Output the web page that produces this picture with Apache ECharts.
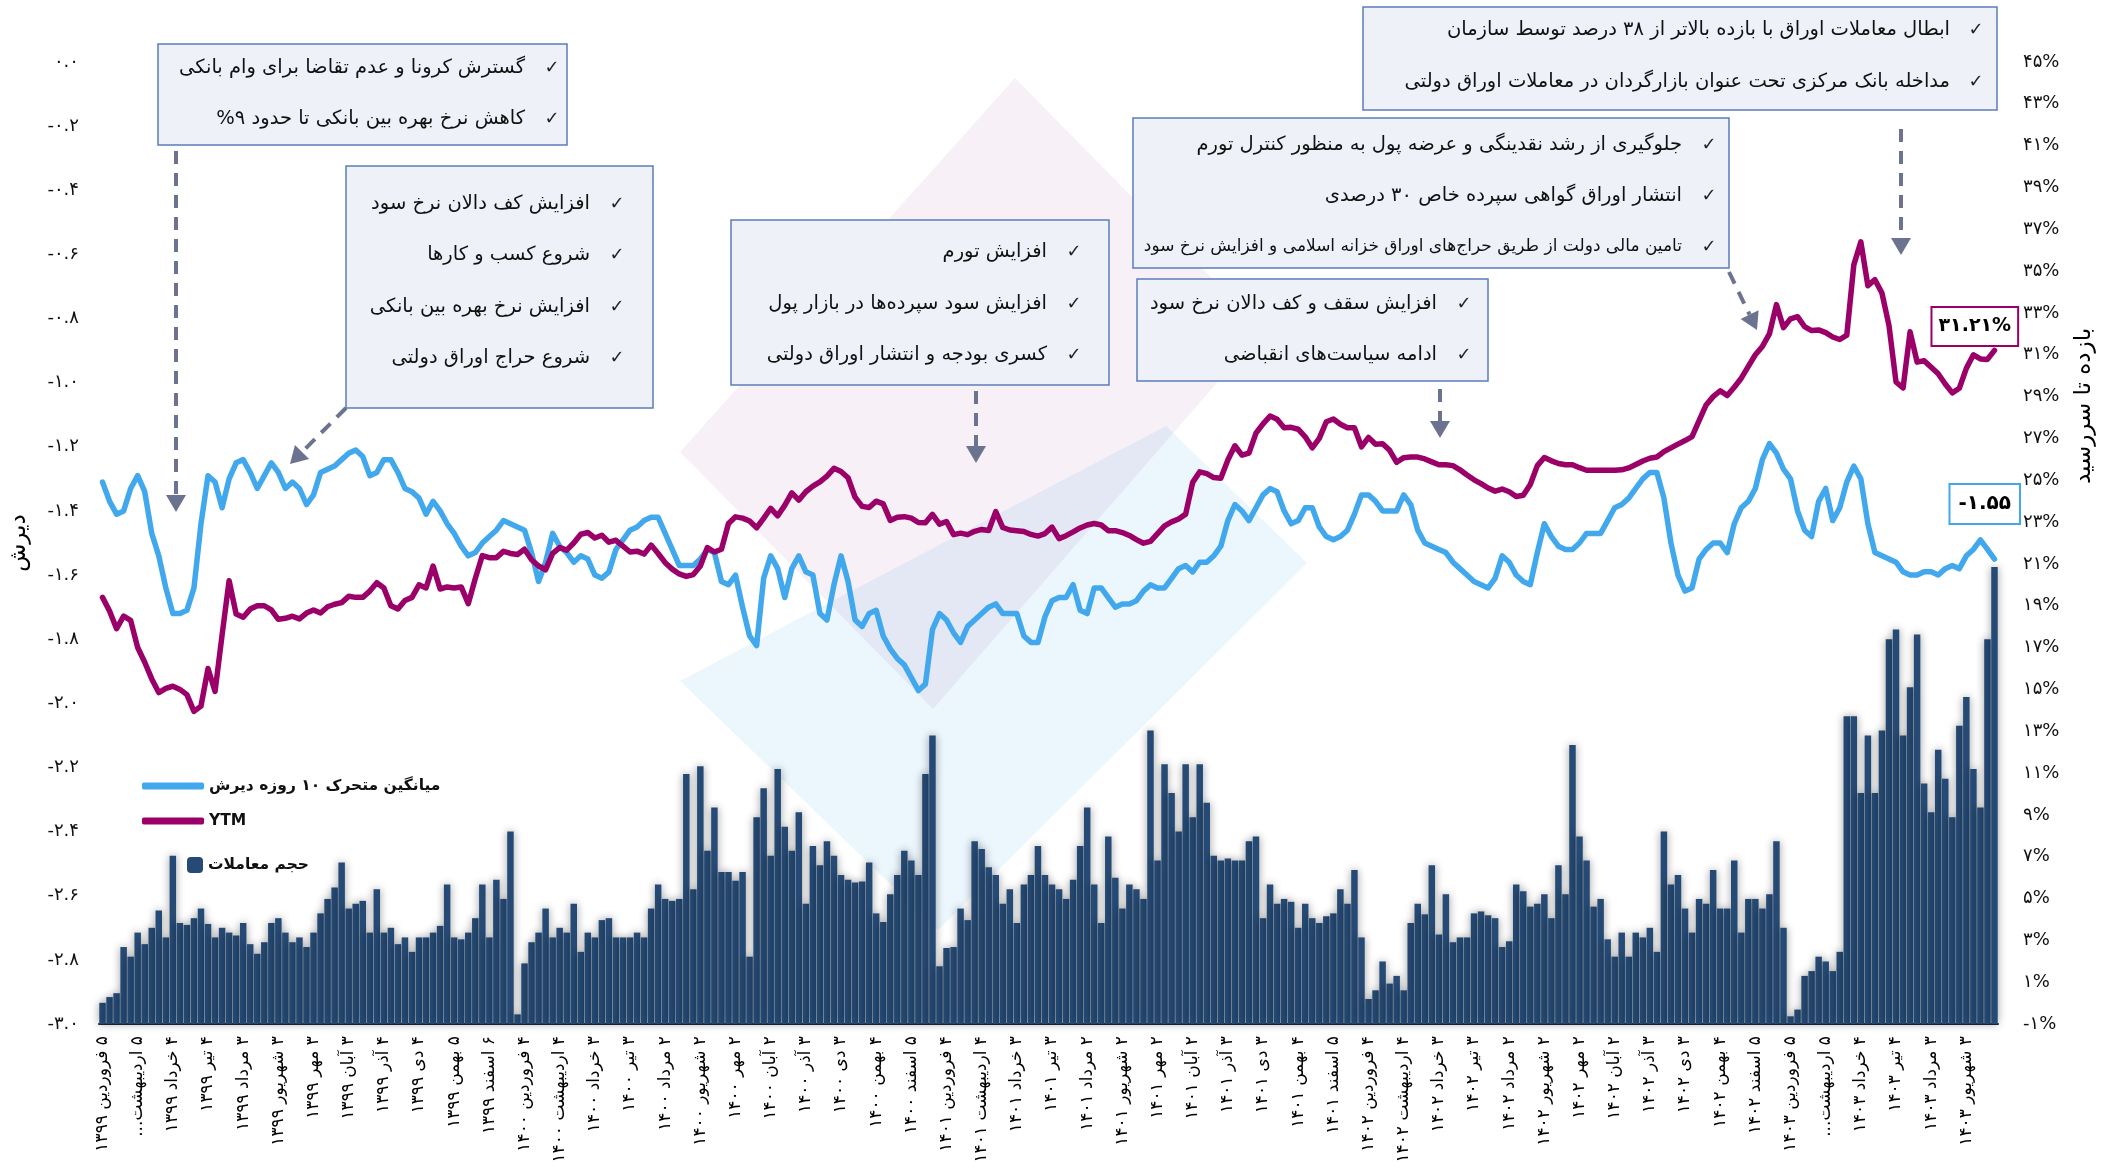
<!DOCTYPE html>
<html>
<head>
<meta charset="utf-8">
<script src="https://cdn.jsdelivr.net/npm/echarts/dist/echarts.min.js"></script>
<style>
html, body { margin: 0; padding: 0; background: #fff; }
#main { width: 2102px; height: 1171px; }
</style>
</head>
<body>
<div id="main"></div>
<script>
// month tick labels (one every 5 samples)
var monthLabels = [
    '۵ فروردین ۱۳۹۹', '۵ اردیبهشت...', '۴ خرداد ۱۳۹۹', '۴ تیر ۱۳۹۹', '۳ مرداد ۱۳۹۹', '۳ شهریور ۱۳۹۹',
    '۳ مهر ۱۳۹۹', '۳ آبان ۱۳۹۹', '۴ آذر ۱۳۹۹', '۴ دی ۱۳۹۹', '۵ بهمن ۱۳۹۹', '۶ اسفند ۱۳۹۹',
    '۴ فروردین ۱۴۰۰', '۴ اردیبهشت ۱۴۰۰', '۳ خرداد ۱۴۰۰', '۳ تیر ۱۴۰۰', '۲ مرداد ۱۴۰۰', '۲ شهریور ۱۴۰۰',
    '۲ مهر ۱۴۰۰', '۲ آبان ۱۴۰۰', '۳ آذر ۱۴۰۰', '۳ دی ۱۴۰۰', '۴ بهمن ۱۴۰۰', '۵ اسفند ۱۴۰۰',
    '۴ فروردین ۱۴۰۱', '۴ اردیبهشت ۱۴۰۱', '۳ خرداد ۱۴۰۱', '۳ تیر ۱۴۰۱', '۲ مرداد ۱۴۰۱', '۲ شهریور ۱۴۰۱',
    '۲ مهر ۱۴۰۱', '۲ آبان ۱۴۰۱', '۳ آذر ۱۴۰۱', '۳ دی ۱۴۰۱', '۴ بهمن ۱۴۰۱', '۵ اسفند ۱۴۰۱',
    '۴ فروردین ۱۴۰۲', '۴ اردیبهشت ۱۴۰۲', '۳ خرداد ۱۴۰۲', '۳ تیر ۱۴۰۲', '۲ مرداد ۱۴۰۲', '۲ شهریور ۱۴۰۲',
    '۲ مهر ۱۴۰۲', '۲ آبان ۱۴۰۲', '۳ آذر ۱۴۰۲', '۳ دی ۱۴۰۲', '۴ بهمن ۱۴۰۲', '۵ اسفند ۱۴۰۲',
    '۵ فروردین ۱۴۰۳', '۵ اردیبهشت...', '۴ خرداد ۱۴۰۳', '۴ تیر ۱۴۰۳', '۳ مرداد ۱۴۰۳', '۳ شهریور ۱۴۰۳'
];
var perMonth = 5;

// 10 day moving average of discount (left axis)
var discount = [
    -1.31, -1.37, -1.41, -1.40, -1.33, -1.29, -1.34, -1.47, -1.54, -1.64,
    -1.72, -1.72, -1.71, -1.64, -1.44, -1.29, -1.31, -1.39, -1.30, -1.25,
    -1.24, -1.28, -1.33, -1.29, -1.25, -1.28, -1.33, -1.31, -1.33, -1.38,
    -1.35, -1.28, -1.27, -1.26, -1.24, -1.22, -1.21, -1.23, -1.29, -1.28,
    -1.24, -1.24, -1.28, -1.33, -1.34, -1.36, -1.41, -1.37, -1.40, -1.44,
    -1.47, -1.51, -1.54, -1.53, -1.50, -1.48, -1.46, -1.43, -1.44, -1.45,
    -1.46, -1.53, -1.62, -1.56, -1.47, -1.51, -1.53, -1.56, -1.54, -1.55,
    -1.60, -1.61, -1.59, -1.52, -1.49, -1.46, -1.45, -1.43, -1.42, -1.42,
    -1.47, -1.52, -1.57, -1.57, -1.57, -1.55, -1.52, -1.53, -1.62, -1.63,
    -1.60, -1.70, -1.79, -1.82, -1.61, -1.54, -1.58, -1.67, -1.58, -1.54,
    -1.59, -1.60, -1.72, -1.74, -1.63, -1.54, -1.62, -1.74, -1.76, -1.72,
    -1.71, -1.79, -1.83, -1.86, -1.88, -1.92, -1.96, -1.94, -1.77, -1.72,
    -1.74, -1.78, -1.81, -1.76, -1.74, -1.72, -1.70, -1.69, -1.72, -1.72,
    -1.72, -1.79, -1.81, -1.81, -1.73, -1.68, -1.67, -1.67, -1.63, -1.71,
    -1.72, -1.64, -1.64, -1.67, -1.70, -1.69, -1.69, -1.68, -1.65, -1.63,
    -1.64, -1.64, -1.61, -1.58, -1.57, -1.59, -1.56, -1.56, -1.54, -1.51,
    -1.43, -1.38, -1.40, -1.43, -1.39, -1.35, -1.33, -1.34, -1.40, -1.44,
    -1.43, -1.39, -1.39, -1.45, -1.48, -1.49, -1.48, -1.46, -1.41, -1.35,
    -1.35, -1.37, -1.40, -1.40, -1.40, -1.35, -1.38, -1.46, -1.50, -1.51,
    -1.52, -1.53, -1.56, -1.58, -1.60, -1.62, -1.63, -1.64, -1.61, -1.54,
    -1.56, -1.60, -1.62, -1.63, -1.53, -1.44, -1.48, -1.51, -1.52, -1.52,
    -1.50, -1.47, -1.47, -1.47, -1.43, -1.39, -1.38, -1.36, -1.33, -1.30,
    -1.28, -1.28, -1.36, -1.50, -1.60, -1.65, -1.64, -1.55, -1.52, -1.50,
    -1.50, -1.53, -1.44, -1.39, -1.37, -1.33, -1.24, -1.19, -1.22, -1.27,
    -1.30, -1.40, -1.46, -1.48, -1.37, -1.33, -1.43, -1.39, -1.31, -1.26,
    -1.30, -1.44, -1.53, -1.54, -1.55, -1.56, -1.59, -1.60, -1.60, -1.59,
    -1.59, -1.60, -1.58, -1.57, -1.58, -1.54, -1.52, -1.49, -1.52, -1.55
];

// YTM in percent (right axis)
var ytm = [
    19.4, 18.75, 17.9, 18.5, 18.3, 17.0, 16.3, 15.5, 14.85, 15.05,
    15.15, 15.0, 14.75, 13.95, 14.2, 16.0, 14.9, 17.6, 20.2, 18.6,
    18.45, 18.84, 19.0, 19.0, 18.8, 18.35, 18.4, 18.5, 18.37, 18.65,
    18.8, 18.65, 18.95, 19.07, 19.15, 19.45, 19.4, 19.4, 19.7, 20.1,
    19.85, 19.0, 18.85, 19.25, 19.4, 20.0, 19.85, 20.9, 19.8, 19.9,
    19.85, 19.9, 19.1, 20.3, 21.4, 21.3, 21.3, 21.6, 21.5, 21.45,
    21.7, 21.2, 20.9, 20.72, 21.5, 21.78, 21.66, 22.0, 22.42, 22.5,
    22.24, 22.37, 22.04, 22.13, 21.85, 21.57, 21.61, 21.47, 21.9, 21.5,
    21.06, 20.75, 20.52, 20.4, 20.49, 20.9, 21.78, 21.57, 21.7, 22.93,
    23.25, 23.19, 23.05, 22.73, 23.18, 23.66, 23.3, 23.8, 24.4, 24.05,
    24.45, 24.72, 24.92, 25.2, 25.57, 25.42, 25.12, 24.19, 23.75, 23.7,
    24.0, 23.87, 23.08, 23.23, 23.26, 23.19, 22.98, 22.97, 23.37, 22.9,
    23.03, 22.4, 22.47, 22.4, 22.56, 22.65, 22.6, 23.5, 22.74, 22.62,
    22.59, 22.55, 22.41, 22.33, 22.45, 22.76, 22.21, 22.35, 22.53, 22.72,
    22.86, 22.93, 22.86, 22.59, 22.59, 22.5, 22.36, 22.16, 21.99, 22.08,
    22.45, 22.82, 23.01, 23.15, 23.38, 24.9, 25.4, 25.32, 25.13, 25.1,
    25.97, 26.65, 26.2, 26.3, 27.25, 27.7, 28.07, 27.92, 27.51, 27.53,
    27.44, 27.08, 26.55, 27.0, 27.8, 27.93, 27.68, 27.51, 27.51, 26.6,
    27.05, 26.72, 26.75, 26.43, 25.86, 26.08, 26.11, 26.11, 26.02, 25.88,
    25.74, 25.74, 25.7, 25.5, 25.25, 25.02, 24.84, 24.63, 24.48, 24.58,
    24.45, 24.22, 24.28, 24.8, 25.7, 26.09, 25.93, 25.8, 25.74, 25.74,
    25.6, 25.48, 25.48, 25.48, 25.48, 25.48, 25.5, 25.59, 25.75, 25.92,
    26.05, 26.11, 26.37, 26.55, 26.73, 26.9, 27.09, 27.85, 28.6, 29.0,
    29.28, 29.05, 29.45, 29.88, 30.45, 31.0, 31.4, 32.0, 33.4, 32.3,
    32.72, 32.82, 32.35, 32.16, 32.19, 32.06, 31.85, 31.73, 31.94, 35.3,
    36.4, 34.3, 34.59, 33.95, 32.4, 29.7, 29.41, 32.1, 30.65, 30.72,
    30.4, 30.09, 29.6, 29.18, 29.4, 30.35, 31.0, 30.8, 30.78, 31.21
];

// trading volume (hidden axis, relative units)
var volume = [
    2.2, 2.8, 3.2, 8.0, 7.0, 9.5, 8.3, 10.0, 11.8, 9.0,
    17.5, 10.5, 10.3, 11.0, 12.0, 10.4, 9.0, 10.0, 9.5, 9.2,
    10.5, 8.3, 7.3, 8.5, 10.5, 11.0, 9.5, 8.5, 9.0, 8.0,
    9.5, 11.5, 13.0, 14.2, 16.8, 12.0, 12.5, 12.8, 9.5, 14.0,
    9.5, 10.0, 8.3, 9.0, 7.5, 9.0, 9.0, 9.5, 10.2, 14.5,
    9.0, 8.8, 9.5, 11.0, 14.5, 9.0, 15.0, 13.0, 20.0, 1.0,
    6.3, 8.5, 9.5, 12.0, 9.0, 10.0, 9.5, 12.5, 7.5, 9.5,
    9.0, 10.8, 11.0, 9.0, 9.0, 9.0, 9.5, 9.0, 12.0, 14.5,
    13.0, 12.8, 13.0, 26.0, 14.0, 26.8, 18.0, 22.5, 15.8, 15.8,
    14.9, 15.8, 7.0, 21.5, 24.5, 17.5, 26.5, 20.5, 18.0, 22.0,
    12.5, 18.5, 16.5, 19.0, 17.5, 15.5, 15.0, 14.7, 14.8, 16.8,
    11.5, 10.6, 13.5, 15.5, 18.0, 17.0, 15.5, 26.0, 30.0, 6.0,
    7.9, 8.0, 12.0, 10.8, 19.0, 18.2, 16.3, 15.5, 12.5, 14.0,
    10.5, 14.5, 15.5, 18.5, 15.5, 14.5, 14.0, 13.0, 15.0, 18.5,
    22.5, 14.5, 10.5, 19.5, 15.2, 12.0, 14.5, 14.0, 13.0, 30.5,
    17.0, 27.0, 24.0, 20.0, 27.0, 21.5, 27.0, 23.0, 17.5, 17.0,
    17.2, 17.0, 17.0, 19.0, 19.5, 11.0, 14.5, 12.5, 13.0, 12.7,
    10.0, 12.5, 11.0, 10.5, 11.2, 11.5, 14.0, 12.5, 16.0, 9.0,
    2.6, 3.5, 6.5, 4.2, 5.0, 3.5, 10.5, 12.5, 11.4, 16.5,
    9.3, 13.5, 8.5, 9.0, 9.0, 11.5, 11.7, 11.3, 11.0, 8.0,
    8.6, 14.5, 13.8, 12.2, 12.5, 13.5, 11.0, 16.5, 13.5, 29.0,
    19.5, 17.0, 12.2, 13.0, 8.8, 7.0, 9.5, 7.0, 9.5, 9.0,
    10.0, 7.5, 20.0, 14.5, 15.5, 12.0, 9.5, 13.0, 12.5, 16.0,
    12.0, 12.0, 17.0, 9.5, 13.0, 13.0, 12.0, 13.5, 19.0, 10.0,
    0.8, 1.5, 5.0, 5.5, 7.0, 6.5, 5.5, 7.5, 32.0, 32.0,
    24.0, 30.0, 24.0, 30.5, 40.0, 41.0, 30.0, 35.0, 40.5, 25.0,
    22.0, 28.5, 25.5, 21.5, 31.0, 34.0, 26.5, 22.5, 40.0, 47.5
];

var FA = 'DejaVu Sans';
var BLUE = '#42a8ee', PURPLE = '#9b0068', NAVY = '#254a75', ARROW = '#6b7391';

function fa(s) {
    return String(s).replace(/[0-9]/g, function (d) { return '۰۱۲۳۴۵۶۷۸۹'[d]; });
}
function rtl(s) { return '\u200F' + s + '\u200F'; }

var days = volume.map(function (v, i) { return String(i); });

// annotation boxes
var notes = [
    {x: 158, y: 44, w: 409, h: 101, check: 552, tx: 525, rows: [68, 119], size: [19.5, 19.5],
        lines: ['گسترش کرونا و عدم تقاضا برای وام بانکی', 'کاهش نرخ بهره بین بانکی تا حدود ۹%']},
    {x: 346, y: 166, w: 307, h: 242, check: 617, tx: 590, rows: [204, 255, 307, 358], size: [19.5, 19.5, 19.5, 19.5],
        lines: ['افزایش کف دالان نرخ سود', 'شروع کسب و کارها', 'افزایش نرخ بهره بین بانکی', 'شروع حراج اوراق دولتی']},
    {x: 731, y: 220, w: 378, h: 165, check: 1074, tx: 1047, rows: [252, 304, 355], size: [19.5, 19.5, 19.5],
        lines: ['افزایش تورم', 'افزایش سود سپرده‌ها در بازار پول', 'کسری بودجه و انتشار اوراق دولتی']},
    {x: 1363, y: 7, w: 634, h: 103, check: 1976, tx: 1950, rows: [30, 82], size: [19.5, 19.5],
        lines: ['ابطال معاملات اوراق با بازده بالاتر از ۳۸ درصد توسط سازمان', 'مداخله بانک مرکزی تحت عنوان بازارگردان در معاملات اوراق دولتی']},
    {x: 1133, y: 118, w: 596, h: 150, check: 1709, tx: 1682, rows: [145, 196, 247], size: [19.5, 19.5, 17],
        lines: ['جلوگیری از رشد نقدینگی و عرضه پول به منظور کنترل تورم', 'انتشار اوراق گواهی سپرده خاص ۳۰ درصدی', 'تامین مالی دولت از طریق حراج‌های اوراق خزانه اسلامی و افزایش نرخ سود']},
    {x: 1137, y: 279, w: 351, h: 102, check: 1464, tx: 1437, rows: [304, 355], size: [19.5, 19.5],
        lines: ['افزایش سقف و کف دالان نرخ سود', 'ادامه سیاست‌های انقباضی']}
];

var arrows = [
    [176, 151, 176, 512], [346, 408, 290, 464], [976, 391, 976, 463],
    [1901, 129, 1901, 255], [1729, 272, 1757, 330], [1440, 389, 1440, 438]
];

var graphics = [];
// faint logo in the background
graphics.push({type: 'polygon', z: 0, silent: true,
    shape: {points: [[1015, 78], [1263, 330], [933, 709], [680, 452]]},
    style: {fill: 'rgba(140,40,130,0.07)'}});
graphics.push({type: 'polygon', z: 0, silent: true,
    shape: {points: [[680, 681], [1166, 426], [1307, 563], [938, 930]]},
    style: {fill: 'rgba(66,168,238,0.1)'}});

notes.forEach(function (n) {
    graphics.push({type: 'rect', z: 100, shape: {x: n.x, y: n.y, width: n.w, height: n.h},
        style: {fill: '#eef2f8', stroke: '#5b7db8', lineWidth: 1.5}});
    n.lines.forEach(function (t, k) {
        graphics.push({type: 'text', z: 101, x: n.check, y: n.rows[k],
            style: {text: '✓', fontSize: 18, fontFamily: FA, fill: '#222', align: 'center', verticalAlign: 'middle'}});
        graphics.push({type: 'text', z: 101, x: n.tx, y: n.rows[k],
            style: {text: rtl(t), fontSize: n.size[k], fontFamily: FA, fill: '#111', align: 'right', verticalAlign: 'middle'}});
    });
});

arrows.forEach(function (a) {
    var dx = a[2] - a[0], dy = a[3] - a[1];
    var len = Math.sqrt(dx * dx + dy * dy), ux = dx / len, uy = dy / len;
    var hl = 17, hw = 10;
    var bx = a[2] - ux * hl, by = a[3] - uy * hl;
    graphics.push({type: 'line', z: 100, shape: {x1: a[0], y1: a[1], x2: bx, y2: by},
        style: {stroke: ARROW, lineWidth: 4, lineDash: [13, 9]}});
    graphics.push({type: 'polygon', z: 100,
        shape: {points: [[a[2], a[3]], [bx - uy * hw, by + ux * hw], [bx + uy * hw, by - ux * hw]]},
        style: {fill: ARROW}});
});

graphics.push({type: 'text', z: 100, x: 2084, y: 406, rotation: Math.PI / 2,
    style: {text: 'بازده تا سررسید', fontSize: 23, fontFamily: FA, fill: '#000', align: 'center', verticalAlign: 'middle'}});

var myChart = echarts.init(document.getElementById('main'));
var option = {
    animation: false,
    backgroundColor: '#fff',
    grid: {left: 95, right: 104, top: 62, bottom: 147},
    legend: [
        {
            data: ['میانگین متحرک ۱۰ روزه دیرش', 'YTM'],
            orient: 'vertical', left: 137, top: 773,
            itemWidth: 62, itemHeight: 7, itemGap: 19, icon: 'roundRect',
            textStyle: {fontSize: 15.5, fontWeight: 'bold', color: '#111', fontFamily: FA}
        },
        {
            data: ['حجم معاملات'],
            left: 182, top: 852, itemWidth: 16, itemHeight: 16, icon: 'roundRect',
            textStyle: {fontSize: 15.5, fontWeight: 'bold', color: '#111', fontFamily: FA}
        }
    ],
    xAxis: {
        type: 'category',
        data: days,
        axisLine: {onZero: false, lineStyle: {color: '#1d2b3a', width: 2}},
        axisTick: {show: false},
        axisLabel: {
            interval: perMonth - 1, rotate: 90, margin: 12,
            fontSize: 17, color: '#000', fontFamily: FA,
            formatter: function (v, i) {
                return i % perMonth === 0 ? rtl(monthLabels[i / perMonth] || '') : '';
            }
        }
    },
    yAxis: [
        {
            type: 'value', min: -3, max: 0, interval: 0.2, position: 'left',
            axisLine: {show: false}, axisTick: {show: false}, splitLine: {show: false},
            axisLabel: {
                margin: 20, fontSize: 18, color: '#111', fontFamily: FA,
                formatter: function (v) { return fa((Math.abs(v) < 1e-9 ? 0 : v).toFixed(1)); }
            },
            name: 'دیرش', nameLocation: 'middle', nameGap: 68,
            nameTextStyle: {fontSize: 23, color: '#000', fontFamily: FA}
        },
        {
            type: 'value', min: -1, max: 45, interval: 2, position: 'right',
            axisLine: {show: false}, axisTick: {show: false}, splitLine: {show: false},
            axisLabel: {
                margin: 25, fontSize: 18, color: '#111', fontFamily: FA,
                formatter: function (v) { return fa(Math.round(v)) + '%'; }
            }
        },
        {type: 'value', min: 0, max: 100, show: false}
    ],
    graphic: graphics,
    series: [
        {
            name: 'حجم معاملات', type: 'bar', yAxisIndex: 2, data: volume,
            barCategoryGap: '8%', z: 1,
            itemStyle: {color: NAVY, shadowBlur: 8, shadowColor: 'rgba(0,0,0,0.4)'}
        },
        {
            name: 'میانگین متحرک ۱۰ روزه دیرش', type: 'line', yAxisIndex: 0, data: discount,
            showSymbol: false, z: 3,
            lineStyle: {color: BLUE, width: 5.5, cap: 'round', join: 'round'},
            itemStyle: {color: BLUE},
            endLabel: {
                show: true, offset: [-52, -55],
                formatter: function (p) { return fa(p.value.toFixed(2)); },
                backgroundColor: '#fff', borderColor: BLUE, borderWidth: 2, padding: [10, 8, 8, 8],
                fontSize: 20, fontWeight: 'bold', color: '#000', fontFamily: FA
            }
        },
        {
            name: 'YTM', type: 'line', yAxisIndex: 1, data: ytm,
            showSymbol: false, z: 4,
            lineStyle: {color: PURPLE, width: 5.5, cap: 'round', join: 'round'},
            itemStyle: {color: PURPLE},
            endLabel: {
                show: true, offset: [-70, -24],
                formatter: function (p) { return fa(p.value.toFixed(2)) + '%'; },
                backgroundColor: '#fff', borderColor: PURPLE, borderWidth: 2, padding: [10, 6, 8, 6],
                fontSize: 19, fontWeight: 'bold', color: '#000', fontFamily: FA
            }
        }
    ]
};
myChart.setOption(option);
</script>
</body>
</html>
